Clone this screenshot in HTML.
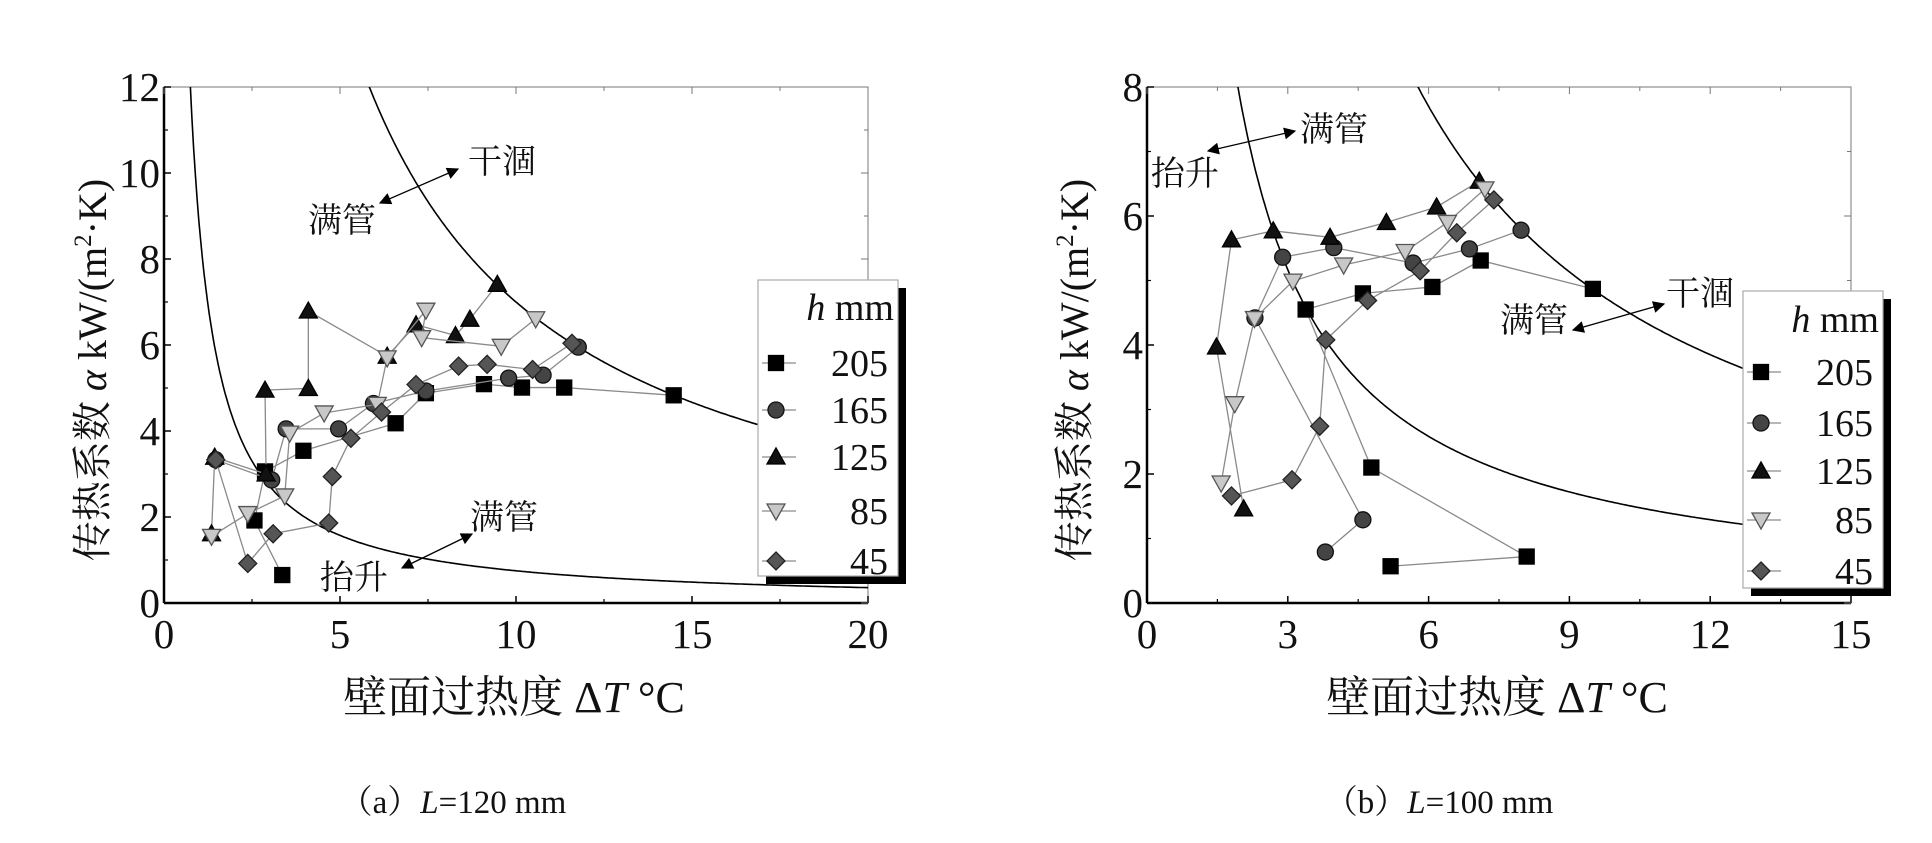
<!DOCTYPE html>
<html><head><meta charset="utf-8">
<style>
html,body{margin:0;padding:0;background:#fff;}
svg{display:block;}
text{font-family:"Liberation Serif","Noto Serif CJK SC","Noto Sans CJK SC",serif;fill:#111;}
.cjk{font-family:"Liberation Serif","Noto Serif CJK SC","Noto Sans CJK SC",serif;}
</style></head>
<body>
<svg id="fig" width="1932" height="843" viewBox="0 0 1932 843" xmlns="http://www.w3.org/2000/svg">
<defs>
<marker id="ah" viewBox="0 0 10 10" refX="9" refY="5" markerWidth="22" markerHeight="12" orient="auto-start-reverse" markerUnits="userSpaceOnUse"><path d="M0,0 L10,5 L0,10 z" fill="#000"/></marker>
</defs>
</svg>
<script>
// ---------- Chart (a) L=120 mm data ----------
const seriesNames = ['205','165','125','85','45'];
const a205x = [3.36,2.57,2.87,3.96,6.58,7.44,9.09,10.17,11.37,14.48];
const a205y = [0.65,1.92,3.06,3.54,4.18,4.88,5.09,5.01,5.01,4.83];
const a165x = [1.47,3.06,3.47,4.96,5.95,7.44,9.79,10.77,11.77];
const a165y = [3.33,2.86,4.05,4.05,4.64,4.93,5.23,5.30,5.95];
const a125x = [1.35,1.44,2.90,2.87,4.10,4.10,6.34,7.16,8.28,8.69,9.47];
const a125y = [1.61,3.39,3.00,4.95,4.99,6.79,5.74,6.47,6.22,6.60,7.41];
const a85x = [1.35,2.38,3.43,3.57,4.55,6.06,6.34,7.44,7.32,9.58,10.56];
const a85y = [1.55,2.08,2.49,3.95,4.42,4.62,5.70,6.81,6.17,5.97,6.61];
const a45x = [1.47,2.38,3.10,4.68,4.78,5.31,6.18,7.16,8.37,9.18,10.47,11.59];
const a45y = [3.33,0.92,1.61,1.86,2.94,3.83,4.44,5.08,5.51,5.55,5.43,6.04];
const aXTicks = [0,5,10,15,20];
const aYTicks = [0,2,4,6,8,10,12];
const aLowK = 8.8, aLowN = 1.07, aHighK = 70;

// ---------- Chart (b) L=100 mm data ----------
const b205x = [5.19,8.09,4.78,3.38,4.60,6.08,7.11,9.50];
const b205y = [0.57,0.72,2.10,4.55,4.80,4.90,5.31,4.87];
const b165x = [3.80,4.60,2.30,2.89,3.98,5.67,6.87,7.97];
const b165y = [0.79,1.29,4.42,5.36,5.51,5.27,5.49,5.78];
const b125x = [2.06,1.48,1.80,2.69,3.90,5.10,6.17,7.08];
const b125y = [1.46,3.97,5.63,5.77,5.67,5.90,6.14,6.54];
const b85x = [1.58,1.87,2.29,3.11,4.19,5.50,6.40,7.20];
const b85y = [1.86,3.09,4.41,4.99,5.24,5.45,5.90,6.42];
const b45x = [1.80,3.09,3.68,3.81,4.70,5.82,6.60,7.39];
const b45y = [1.66,1.91,2.74,4.08,4.69,5.15,5.74,6.25];
const bXTicks = [0,3,6,9,12,15];
const bYTicks = [0,2,4,6,8];
const bLowK = 15.5, bLowN = 1.0, bHighK = 46.2;

const NS = 'http://www.w3.org/2000/svg';
const svg = document.getElementById('fig');
function mk(tag, attrs, parent){
  const e = document.createElementNS(NS, tag);
  for (const k in attrs) e.setAttribute(k, attrs[k]);
  (parent||svg).appendChild(e);
  return e;
}
const styles = {
  '205':{shape:'square',fill:'#000',stroke:'#000'},
  '165':{shape:'circle',fill:'#444',stroke:'#111'},
  '125':{shape:'tri',fill:'#111',stroke:'#000'},
  '85':{shape:'itri',fill:'#c8c8c8',stroke:'#555'},
  '45':{shape:'diamond',fill:'#555',stroke:'#222'}
};
function marker(g, shape, x, y, st){
  let e;
  const s = 8;
  if (shape==='square') e = mk('rect',{x:x-s+0.5,y:y-s+0.5,width:2*s-1,height:2*s-1},g);
  else if (shape==='circle') e = mk('circle',{cx:x,cy:y,r:s},g);
  else if (shape==='tri') e = mk('polygon',{points:`${x},${y-s-1} ${x+s+1},${y+s-1} ${x-s-1},${y+s-1}`},g);
  else if (shape==='itri') e = mk('polygon',{points:`${x},${y+s+1} ${x+s+1},${y-s+1} ${x-s-1},${y-s+1}`},g);
  else e = mk('polygon',{points:`${x},${y-s-1} ${x+s+1},${y} ${x},${y+s+1} ${x-s-1},${y}`},g);
  e.setAttribute('fill', st.fill); e.setAttribute('stroke', st.stroke); e.setAttribute('stroke-width','1.3');
  return e;
}

function chart(cfg){
  const g = mk('g',{});
  
  
  const L=cfg.L,R=cfg.R,T=cfg.T,B=cfg.B;
  const sx = v => L + (v - cfg.xmin)/(cfg.xmax-cfg.xmin)*(R-L);
  const sy = v => B - (v - cfg.ymin)/(cfg.ymax-cfg.ymin)*(B-T);
  const clip = mk('clipPath',{id:cfg.id+'clip'},g);
  mk('rect',{x:L,y:T,width:R-L,height:B-T},clip);
  const fr = mk('rect',{x:L,y:T,width:R-L,height:B-T,fill:'none',stroke:'#777','stroke-width':1},g);
   
  const xa = mk('line',{x1:L,y1:B,x2:R,y2:B,stroke:'#000','stroke-width':2.5},g);
   
  const ya = mk('line',{x1:L,y1:T,x2:L,y2:B,stroke:'#000','stroke-width':2.5},g);
   
  cfg.xt.forEach((v,i)=>{
    const x=sx(v);
    mk('line',{x1:x,y1:B,x2:x,y2:B-7,stroke:'#000','stroke-width':1.5},g);
    mk('line',{x1:x,y1:T,x2:x,y2:T+7,stroke:'#777','stroke-width':1},g);
    if(i<cfg.xt.length-1){const m=sx((v+cfg.xt[i+1])/2); mk('line',{x1:m,y1:B,x2:m,y2:B-4,stroke:'#000','stroke-width':1.2},g); mk('line',{x1:m,y1:T,x2:m,y2:T+4,stroke:'#777','stroke-width':1},g);}
    const t = mk('text',{x:x,y:B+45,'text-anchor':'middle','font-size':41},g);
    t.textContent = v;
     
  });
  cfg.yt.forEach((v,i)=>{
    const y=sy(v);
    mk('line',{x1:L,y1:y,x2:L+7,y2:y,stroke:'#000','stroke-width':1.5},g);
    mk('line',{x1:R,y1:y,x2:R-7,y2:y,stroke:'#777','stroke-width':1},g);
    if(i<cfg.yt.length-1){const m=sy((v+cfg.yt[i+1])/2); mk('line',{x1:L,y1:m,x2:L+4,y2:m,stroke:'#000','stroke-width':1.2},g); mk('line',{x1:R,y1:m,x2:R-4,y2:m,stroke:'#777','stroke-width':1},g);}
    const t = mk('text',{x:L-4,y:y+14,'text-anchor':'end','font-size':41},g);
    t.textContent = v;
     
  });
  const cg = mk('g',{'clip-path':`url(#${cfg.id}clip)`},g);
  [[cfg.lowK,cfg.lowN,'low'],[cfg.highK,1,'high']].forEach(([k,n,nm])=>{
    let d='';
    for(let i=0;i<=400;i++){
      const x = 0.3 + i*(cfg.xmax-0.3)/400;
      const y = k/Math.pow(x,n);
      if (y>cfg.ymax*1.5) continue;
      d += (d?'L':'M') + sx(x).toFixed(1)+','+sy(y).toFixed(1);
    }
    const p = mk('path',{d:d,fill:'none',stroke:'#000','stroke-width':1.6},cg);
    
    
  });
  seriesNames.forEach((nm,si)=>{
    const xs=cfg.data[si][0], ys=cfg.data[si][1];
    const sg = mk('g',{},g);
    
    
    mk('polyline',{points:xs.map((x,i)=>sx(x)+','+sy(ys[i])).join(' '),fill:'none',stroke:'#8a8a8a','stroke-width':1.3},sg);
    xs.forEach((x,i)=>{
      const m = marker(sg, styles[nm].shape, sx(x), sy(ys[i]), styles[nm]);
      
      
    });
  });
  cfg.ann.forEach(a=>{
    const ln = mk('line',{x1:a[0],y1:a[1],x2:a[2],y2:a[3],stroke:'#000','stroke-width':1.3,'marker-start':'url(#ah)','marker-end':'url(#ah)'},g);
     
  });
  cfg.lbl.forEach(a=>{
    const t = mk('text',{x:a[0],y:a[1],'font-size':34,'class':'cjk'},g);
    t.textContent=a[2];
     
  });
  const lg = mk('g',{},g);
   
  const lb = cfg.leg;
  mk('rect',{x:lb.x+8,y:lb.y+8,width:lb.w,height:lb.h,fill:'#000'},lg);
  mk('rect',{x:lb.x,y:lb.y,width:lb.w,height:lb.h,fill:'#fff',stroke:'#aaa','stroke-width':1.2},lg);
  const tt = mk('text',{x:lb.x+lb.w-4,y:lb.ty,'text-anchor':'end','font-size':38},lg);
  tt.innerHTML = '<tspan font-style="italic">h</tspan> mm';
   
  seriesNames.forEach((nm,i)=>{
    const y = lb.ey[i];
    const e = mk('g',{},lg);
     
    mk('line',{x1:lb.x+4,y1:y,x2:lb.x+38,y2:y,stroke:'#8a8a8a','stroke-width':1.3},e);
    marker(e, styles[nm].shape, lb.x+18, y, styles[nm]);
    const t = mk('text',{x:lb.x+lb.w-10,y:y+13,'text-anchor':'end','font-size':38},e);
    t.textContent = nm;
  });
  const yt = mk('text',{transform:`translate(${cfg.ytx},${(T+B)/2+25}) rotate(-90)`,'text-anchor':'middle','font-size':40},g);
  yt.innerHTML = '传热系数 <tspan font-style="italic">α</tspan> kW/(m<tspan font-size="25" dy="-15">2</tspan><tspan dy="15">·K)</tspan>';
   
  const xt = mk('text',{x:(L+R)/2-2,y:712,'text-anchor':'middle','font-size':44},g);
  xt.innerHTML = '壁面过热度 Δ<tspan font-style="italic">T</tspan> °C';
   
  const cp = mk('text',{x:cfg.capx,y:813,'text-anchor':'middle','font-size':33},g);
  cp.innerHTML = '（'+cfg.cap+'）<tspan font-style="italic">L</tspan>='+cfg.capL+' mm';
   
}

chart({id:'a',name:'chart-a-L120',L:164,R:868,T:87,B:603,xmin:0,xmax:20,ymin:0,ymax:12,xt:aXTicks,yt:aYTicks,
  lowK:aLowK,lowN:aLowN,highK:aHighK,
  data:[[a205x,a205y],[a165x,a165y],[a125x,a125y],[a85x,a85y],[a45x,a45y]],
  ann:[[380,203,458,169],[402,568,472,534]],
  lbl:[[468,173,'干涸'],[308,232,'满管'],[470,529,'满管'],[320,589,'抬升']],
  leg:{x:758,y:280,w:140,h:296,ty:320,ey:[363,410,457,511,561]},
  ytx:106,capx:453,cap:'a',capL:'120'});
chart({id:'b',name:'chart-b-L100',L:1147,R:1851,T:87,B:603,xmin:0,xmax:15,ymin:0,ymax:8,xt:bXTicks,yt:bYTicks,
  lowK:bLowK,lowN:bLowN,highK:bHighK,
  data:[[b205x,b205y],[b165x,b165y],[b125x,b125y],[b85x,b85y],[b45x,b45y]],
  ann:[[1208,151,1295,131],[1573,330,1664,304]],
  lbl:[[1300,141,'满管'],[1151,185,'抬升'],[1666,305,'干涸'],[1500,332,'满管']],
  leg:{x:1743,y:291,w:140,h:297,ty:332,ey:[372,423,471,520,571]},
  ytx:1088,capx:1439,cap:'b',capL:'100'});
</script>
</body></html>
